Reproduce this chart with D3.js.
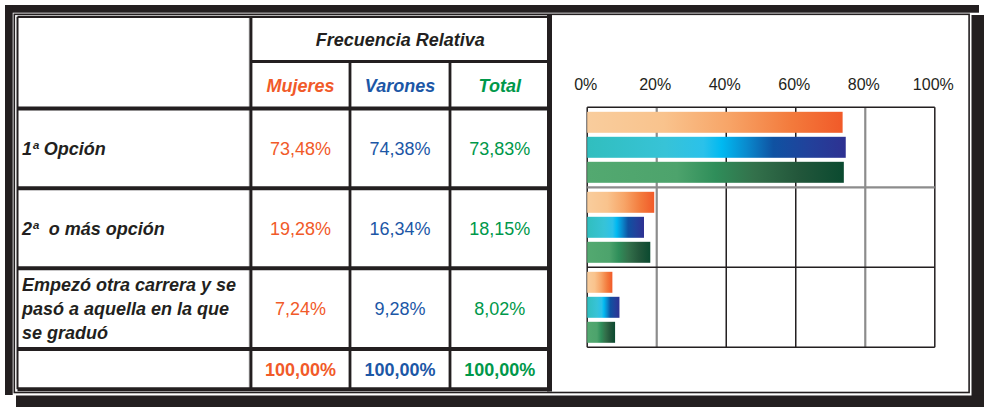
<!DOCTYPE html>
<html>
<head>
<meta charset="utf-8">
<script src="https://cdn.jsdelivr.net/npm/d3@7"></script>
<style>
  html, body { margin: 0; padding: 0; background: #fff; }
  svg { display: block; font-family: "Liberation Sans", Arial, sans-serif; }
</style>
</head>
<body>
<svg id="chart" width="984" height="407"></svg>
<script>
const categorias = ["1ª Opción", "2ª  o más opción", "Empezó otra carrera y se pasó a aquella en la que se graduó"]
const categoriaLineas = [["1ª Opción"], ["2ª  o más opción"], ["Empezó otra carrera y se", "pasó a aquella en la que", "se graduó"]]
const series = ["Mujeres", "Varones", "Total"]
const mujeres = [73.48, 19.28, 7.24]
const varones = [74.38, 16.34, 9.28]
const total = [73.83, 18.15, 8.02]
const totales = [100, 100, 100]
const ticks = [0, 20, 40, 60, 80, 100]
const titulo = "Frecuencia Relativa"

const dark = '#231f20'
const serieColor = { Mujeres: '#f15a29', Varones: '#1c57a6', Total: '#00984a' }
const serieGrad = {
  Mujeres: [[0, '#f9cd9d'], [0.3, '#f9c38d'], [0.55, '#f7a568'], [0.8, '#f37a3c'], [1, '#f15a29']],
  Varones: [[0, '#31bebe'], [0.3, '#37c3d7'], [0.45, '#2bc1ea'], [0.52, '#00b9f1'], [0.62, '#0a88cc'], [0.72, '#0f52a2'], [0.86, '#22419b'], [1, '#2e3192']],
  Total: [[0, '#53a970'], [0.35, '#4da36c'], [0.5, '#2f8e5a'], [0.65, '#33714b'], [0.82, '#23573b'], [1, '#0b4a30']]
}
const valores = { Mujeres: mujeres, Varones: varones, Total: total }

const locale = d3.formatLocale({ decimal: ',', thousands: '.', grouping: [3], currency: ['', '€'] })
const fmt = d => locale.format('.2f')(d) + '%'

const svg = d3.select('#chart')

// marco con sombra
svg.append('rect').attr('x', 971.5).attr('y', 15).attr('width', 12.5).attr('height', 392).attr('fill', dark)
svg.append('rect').attr('x', 16).attr('y', 395.5).attr('width', 968).attr('height', 11.5).attr('fill', dark)
svg.append('rect').attr('x', 5).attr('y', 5).attr('width', 974).attr('height', 7.7).attr('fill', dark)
svg.append('rect').attr('x', 5).attr('y', 5).attr('width', 7.7).attr('height', 390).attr('fill', dark)
svg.append('rect').attr('x', 14.3).attr('y', 14.3).attr('width', 954.8).attr('height', 378.2)
  .attr('fill', 'none').attr('stroke', dark).attr('stroke-width', 1.6)

// tabla
const colX = [17.5, 251, 350, 450, 549.5]
const rowY = [16.8, 61.5, 108.5, 188.3, 268.3, 349, 389.2]
const tabla = svg.append('g')

tabla.append('line').attr('x1', 249.3).attr('x2', 249.3).attr('y1', 17).attr('y2', 388)
  .attr('stroke', '#9a9a9a').attr('stroke-width', 1)
tabla.append('line').attr('x1', colX[0]).attr('x2', colX[0]).attr('y1', rowY[0]).attr('y2', rowY[6])
  .attr('stroke', dark).attr('stroke-width', 2)
tabla.append('line').attr('x1', colX[1]).attr('x2', colX[1]).attr('y1', rowY[0]).attr('y2', rowY[6])
  .attr('stroke', dark).attr('stroke-width', 2.8)
tabla.selectAll('line.col').data([colX[2], colX[3]]).enter().append('line')
  .attr('class', 'col')
  .attr('x1', d => d).attr('x2', d => d).attr('y1', rowY[1]).attr('y2', rowY[6])
  .attr('stroke', dark).attr('stroke-width', 2.8)
tabla.append('line').attr('x1', colX[4]).attr('x2', colX[4]).attr('y1', 15).attr('y2', 391.5)
  .attr('stroke', dark).attr('stroke-width', 5)
tabla.append('line').attr('x1', colX[0]).attr('x2', colX[4]).attr('y1', rowY[0]).attr('y2', rowY[0])
  .attr('stroke', dark).attr('stroke-width', 2.2)
tabla.append('line').attr('x1', colX[1]).attr('x2', colX[4]).attr('y1', rowY[1]).attr('y2', rowY[1])
  .attr('stroke', dark).attr('stroke-width', 3)
tabla.selectAll('line.row').data(rowY.slice(2)).enter().append('line')
  .attr('class', 'row')
  .attr('x1', colX[0]).attr('x2', colX[4]).attr('y1', d => d).attr('y2', d => d)
  .attr('stroke', dark).attr('stroke-width', 4)

tabla.append('text')
  .attr('x', (colX[1] + colX[4]) / 2).attr('y', 45.5)
  .attr('text-anchor', 'middle')
  .attr('font-size', 18).attr('font-weight', 'bold').attr('font-style', 'italic')
  .attr('fill', dark)
  .text(titulo)

tabla.selectAll('text.serie').data(series).enter().append('text')
  .attr('class', 'serie')
  .attr('x', (d, i) => (colX[i + 1] + colX[i + 2]) / 2)
  .attr('y', 91.5)
  .attr('text-anchor', 'middle')
  .attr('font-size', 18).attr('font-weight', 'bold').attr('font-style', 'italic')
  .attr('fill', d => serieColor[d])
  .text(d => d)

categorias.forEach((c, r) => {
  const lineas = categoriaLineas[r]
  const mid = (rowY[r + 2] + rowY[r + 3]) / 2
  const t = tabla.append('text')
    .attr('x', 22)
    .attr('y', mid + 6.5 - (lineas.length - 1) * 12)
    .attr('font-size', 18).attr('font-weight', 'bold').attr('font-style', 'italic')
    .attr('fill', dark)
    .style('white-space', 'pre')
  t.selectAll('tspan').data(lineas).enter().append('tspan')
    .attr('x', 22)
    .attr('dy', (d, i) => i === 0 ? 0 : 24)
    .text(d => d)

  series.forEach((s, i) => {
    tabla.append('text')
      .attr('x', (colX[i + 1] + colX[i + 2]) / 2)
      .attr('y', mid + 6.5)
      .attr('text-anchor', 'middle')
      .attr('font-size', 18)
      .attr('fill', serieColor[s])
      .text(fmt(valores[s][r]))
  })
})

series.forEach((s, i) => {
  tabla.append('text')
    .attr('x', (colX[i + 1] + colX[i + 2]) / 2)
    .attr('y', (rowY[5] + rowY[6]) / 2 + 7)
    .attr('text-anchor', 'middle')
    .attr('font-size', 18).attr('font-weight', 'bold')
    .attr('fill', serieColor[s])
    .text(fmt(totales[i]))
})

// grafico de barras
const x = d3.scaleLinear().domain([0, 100]).range([587.2, 934.8])
const y = d3.scaleBand().domain(categorias).range([107.3, 347.3])
const ySerie = d3.scaleBand().domain(series).range([4.5, 75.5]).paddingInner(0.16)

const defs = svg.append('defs')
series.forEach(s => {
  const g = defs.append('linearGradient').attr('id', 'grad-' + s)
    .attr('x1', 0).attr('x2', 1).attr('y1', 0).attr('y2', 0)
  g.selectAll('stop').data(serieGrad[s]).enter().append('stop')
    .attr('offset', d => d[0]).attr('stop-color', d => d[1])
})

const grid = svg.append('g')
grid.selectAll('line.v').data(ticks).enter().append('line')
  .attr('class', 'v')
  .attr('x1', d => x(d)).attr('x2', d => x(d))
  .attr('y1', y.range()[0]).attr('y2', y.range()[1])
  .attr('stroke', (d, i) => i % 3 === 1 ? '#8c8c8c' : dark)
  .attr('stroke-width', (d, i) => i % 3 === 1 ? 2.2 : 1.5)
const hLines = categorias.map(c => y(c)).concat([y.range()[1]])
grid.selectAll('line.h').data(hLines).enter().append('line')
  .attr('class', 'h')
  .attr('x1', x(0)).attr('x2', x(100))
  .attr('y1', d => d).attr('y2', d => d)
  .attr('stroke', (d, i) => i === 1 ? '#8c8c8c' : dark)
  .attr('stroke-width', (d, i) => i === 1 ? 2.2 : 1.6)

const grupo = svg.selectAll('g.cat')
    .data(categorias)
  .enter().append('g')
    .attr('class', 'cat')
    .attr('transform', d => `translate(0, ${y(d)})`)

grupo.selectAll('rect')
    .data((d, r) => series.map(s => ({ s, v: valores[s][r] })))
  .enter().append('rect')
    .attr('x', x(0))
    .attr('y', d => ySerie(d.s))
    .attr('width', d => x(d.v) - x(0))
    .attr('height', ySerie.bandwidth())
    .attr('fill', d => `url(#grad-${d.s})`)

const xAxis = d3.axisTop(x).tickValues(ticks).tickFormat(d => d + '%').tickSize(0).tickPadding(0)
const axisG = svg.append('g')
  .attr('transform', 'translate(-2, 89.5)')
  .call(xAxis)
axisG.select('.domain').remove()
axisG.selectAll('text')
  .attr('font-size', 16)
  .attr('font-family', '"Liberation Sans", Arial, sans-serif')
  .attr('fill', dark)
</script>
</body>
</html>
